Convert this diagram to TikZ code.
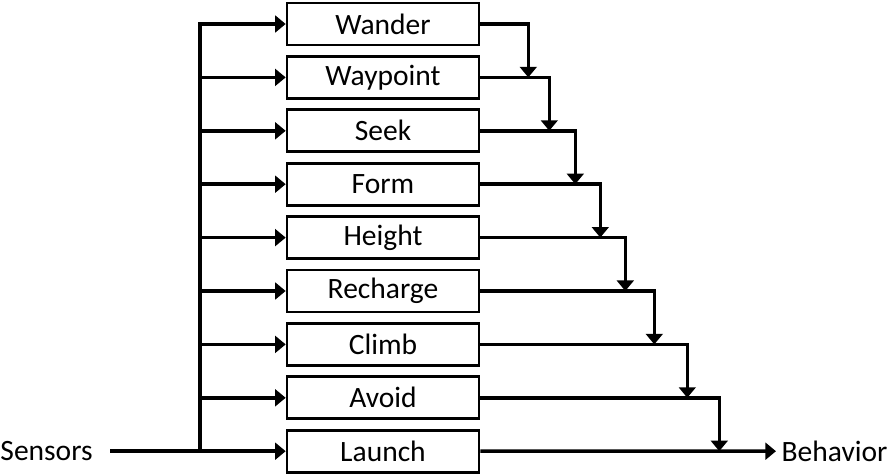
\documentclass[tikz,border=0pt]{standalone}
\usepackage{fontspec}
\setmainfont{Carlito}
\usetikzlibrary{arrows.meta,positioning,calc}
\tikzset{
  blk/.style={draw,line width=1.5pt,minimum width=3.84cm,minimum height=.84cm,inner sep=0pt,font=\fontsize{16.8}{20}\selectfont},
  arr/.style={line width=2pt,-{Triangle[length=6pt,width=9.5pt]}},
  busline/.style={line width=2.5pt}
}
\begin{document}
\begin{tikzpicture}[x=.02cm,y=-.02cm]
\useasboundingbox(0,0)rectangle(894,474);
\foreach \n/\t [count=\i] in {wander/Wander,waypoint/Waypoint,seek/Seek,form/Form,height/Height,recharge/Recharge,climb/Climb,avoid/Avoid,launch/Launch}
  \node[blk](\n)at(383,{24+53.4*(\i-1)}){\t};
\coordinate(bustop)at(200,24);
\coordinate(busbot)at(200,451.2);
\node[anchor=east,inner xsep=.34cm,inner ysep=0pt,font=\fontsize{16.8}{20}\selectfont](sensors)at(110,451.2){Sensors};
\node[anchor=west,inner sep=3pt,font=\fontsize{16.8}{20}\selectfont](behavior)at(776,451.2){Behavior};
% sensor bus
\draw[busline](sensors.east)--(busbot);
\draw[busline,line cap=rect](bustop)--(busbot);
\foreach \n in {wander,waypoint,seek,form,height,recharge,climb,avoid,launch}
  \draw[arr](\n.west -| bustop)--(\n.west);
% suppression chain
\foreach \a/\b/\d in {wander/waypoint/48,waypoint/seek/69,seek/form/95,form/height/120,height/recharge/145,recharge/climb/174,climb/avoid/207,avoid/launch/239}
  \draw[arr](\a.east)-|($(\b.east)+(\d,0)$);
\draw[arr](launch.east)--(behavior.west);
\end{tikzpicture}
\end{document}
